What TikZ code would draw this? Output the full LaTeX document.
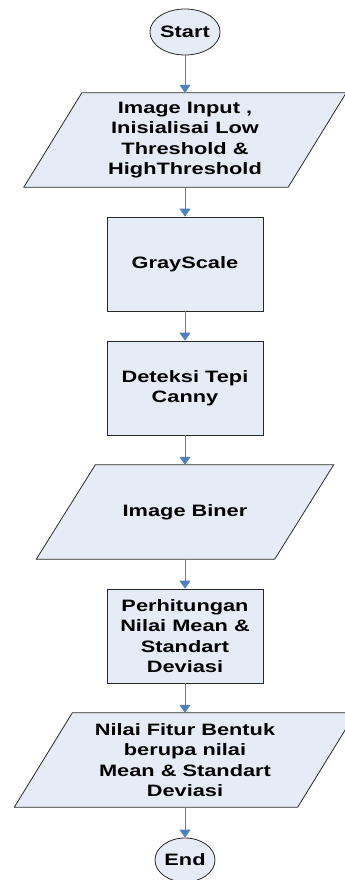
\documentclass[tikz,border=0pt]{standalone}
\usepackage{fontspec}
\setmainfont[FakeStretch=1.32]{Liberation Sans}
\usetikzlibrary{arrows.meta,backgrounds,calc,shapes.geometric}
\definecolor{boxfill}{RGB}{230,236,247}
\definecolor{boxline}{RGB}{40,40,40}
\definecolor{arrowblue}{RGB}{79,129,189}
\tikzset{
  every node/.style={font=\fontsize{16.5}{20.5}\selectfont\bfseries, text=black, align=center},
  term/.style={ellipse, draw=boxline, fill=boxfill, line width=0.8pt, minimum width=60pt, minimum height=46pt, inner sep=0pt},
  procbox/.style={rectangle, draw=boxline, fill=boxfill, line width=0.8pt, minimum width=156pt, minimum height=94pt, inner sep=0pt},
  io/.style={rectangle, minimum height=94pt, inner sep=0pt},
  iofill/.style={draw=boxline, fill=boxfill, line width=0.8pt, line join=miter},
  flow/.style={draw=arrowblue, line width=1pt, -{Triangle[width=11pt,length=8pt]}},
}
\begin{document}
\begin{tikzpicture}[x=1pt,y=-1pt]
\useasboundingbox (0,0) rectangle (345,880);
\node[term] (start) at (185,32) {Start};
\node[io, minimum width=264pt] (p1) at (185,140) {Image Input ,\\Inisialisai Low\\Threshold \&\\HighThreshold};
\node[procbox] (gray) at (185,264) {GrayScale};
\node[procbox] (canny) at (185,388) {Deteksi Tepi\\Canny};
\node[io, minimum width=238pt] (p2) at (185,512) {Image Biner};
\node[procbox] (calc) at (185,636) {Perhitungan\\Nilai Mean \&\\Standart\\Deviasi};
\node[io, minimum width=283pt] (p3) at (185,760) {Nilai Fitur Bentuk\\berupa nilai\\Mean \& Standart\\Deviasi};
\node[term, minimum height=44pt] (end) at (185,860) {End};
\begin{scope}[on background layer]
  \foreach \n/\s in {p1/29, p2/29.5, p3/29}{
    \draw[iofill] ($(\n.south west)+(-\s,0)$) -- ($(\n.north west)+(\s,0)$) -- ($(\n.north east)+(\s,0)$) -- ($(\n.south east)+(-\s,0)$) -- cycle;
  }
\end{scope}
\draw[flow] (start) -- (p1);
\draw[flow] (p1) -- (gray);
\draw[flow] (gray) -- (canny);
\draw[flow] (canny) -- (p2);
\draw[flow] (p2) -- (calc);
\draw[flow] (calc) -- (p3);
\draw[flow] (p3) -- (end);
\end{tikzpicture}
\end{document}
